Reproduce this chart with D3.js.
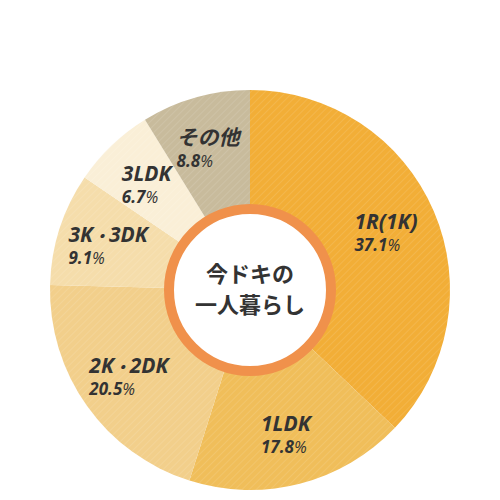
<!DOCTYPE html>
<html>
<head>
<meta charset="utf-8">
<script src="https://cdn.jsdelivr.net/npm/d3@7"></script>
<style>
  html, body { margin: 0; padding: 0; background: #fff; }
  svg { display: block; }
</style>
</head>
<body>
<div id="chart"></div>
<script>
// データ（時計回り、12時から）
const categories = ["1R(1K)", "1LDK", "2K・2DK", "3K・3DK", "3LDK", "その他"];
const shares = [37.1, 17.8, 20.5, 9.1, 6.7, 8.8];
const sliceColors = ["#f2ae37", "#f0be5a", "#f2cf8b", "#f5ddab", "#faefd7", "#c8bb9c"];
const centerLines = ["今ドキの", "一人暮らし"];

const width = 500, height = 500;
const cx = 250, cy = 290;
const outerR = 200;

const svg = d3.select("#chart").append("svg")
  .attr("width", width).attr("height", height);

// 斜線テクスチャ
const defs = svg.append("defs");
const pat = defs.append("pattern").attr("id", "stripes")
  .attr("patternUnits", "userSpaceOnUse")
  .attr("width", 5).attr("height", 5)
  .attr("patternTransform", "rotate(45)");
pat.append("line")
  .attr("x1", 0).attr("y1", 0).attr("x2", 0).attr("y2", 5)
  .attr("stroke", "#fff").attr("stroke-opacity", 0.13).attr("stroke-width", 1.6);

const g = svg.append("g").attr("transform", `translate(${cx},${cy})`);

const pie = d3.pie().sort(null).value((d) => d.value);
const arcs = pie(categories.map((c, i) => ({ name: c, value: shares[i], color: sliceColors[i] })));

const arc = d3.arc().innerRadius(0).outerRadius(outerR);

g.selectAll("path.slice")
  .data(arcs)
  .join("path")
  .attr("class", "slice")
  .attr("d", arc)
  .attr("fill", (d) => d.data.color);

g.selectAll("path.tex")
  .data(arcs)
  .join("path")
  .attr("class", "tex")
  .attr("d", arc)
  .attr("fill", "url(#stripes)");

// 中央の円
g.append("circle").attr("r", 81)
  .attr("fill", "#fff")
  .attr("stroke", "#f0914b").attr("stroke-width", 10);

g.selectAll("text.center")
  .data(centerLines)
  .join("text")
  .attr("class", "center")
  .attr("x", 0)
  .attr("y", (d, i) => -15.5 + i * 31)
  .attr("dy", "0.35em")
  .attr("text-anchor", "middle")
  .style("font-family", "'Noto Sans CJK JP', sans-serif")
  .style("font-weight", 700)
  .style("font-size", "22px")
  .style("fill", "#333")
  .text((d) => d);

// ラベル
const labelArc = d3.arc().innerRadius(148).outerRadius(148);
arcs.forEach((d) => {
  const [lx, ly] = labelArc.centroid(d);
  const lg = g.append("g")
    .style("font-family", "'Open Sans', 'Noto Sans CJK JP', sans-serif")
    .style("font-style", "italic")
    .style("fill", "#333");
  const nt = lg.append("text")
    .attr("x", 0).attr("y", 0)
    .style("font-weight", 700)
    .style("font-size", "21px");
  // 「・」は全角で広すぎるので小さめに
  const parts = d.data.name.split("・");
  parts.forEach((p, i) => {
    if (i > 0) nt.append("tspan").style("font-size", "16px").text("・");
    nt.append("tspan").text(p);
  });
  const pt = lg.append("text").attr("x", 0).attr("y", 22);
  pt.append("tspan").style("font-weight", 700).style("font-size", "17px")
    .text(d.data.value.toFixed(1));
  pt.append("tspan").style("font-weight", 400).style("font-size", "16px")
    .text("%");
  const bb = lg.node().getBBox();
  lg.attr("transform", `translate(${lx - (bb.x + bb.width / 2)},${ly - (bb.y + bb.height / 2)})`);
});
</script>
</body>
</html>
